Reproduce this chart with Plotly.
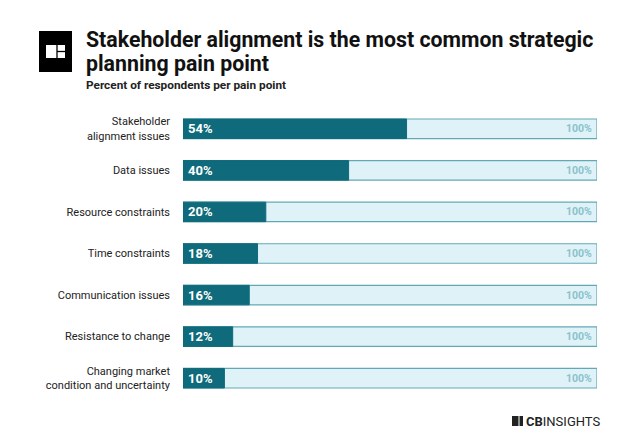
import plotly.graph_objects as go

categories = ["Stakeholder<br>alignment issues", "Data issues", "Resource constraints",
              "Time constraints", "Communication issues", "Resistance to change",
              "Changing market<br>condition and uncertainty"]
values = [54, 40, 20, 18, 16, 12, 10]
full = [100] * len(values)

DARK = "#0f6b7b"
LIGHT = "#dff2f8"
BORDER = "#63a9b5"

fig = go.Figure()
fig.add_trace(go.Bar(
    y=categories, x=full, orientation="h", width=0.47,
    marker=dict(color=LIGHT, line=dict(color=BORDER, width=1.2)),
    hoverinfo="skip", showlegend=False,
))
fig.add_trace(go.Bar(
    y=categories, x=values, orientation="h", width=0.47,
    marker=dict(color=DARK, line=dict(color=DARK, width=1)),
    hoverinfo="skip", showlegend=False,
))

for c, v, f in zip(categories, values, full):
    fig.add_annotation(x=0, y=c, xref="x", yref="y", xanchor="left", yanchor="middle",
                       xshift=3, showarrow=False, text=f"<b>{v}%</b>",
                       font=dict(family="Roboto", size=13, color="white"))
    fig.add_annotation(x=f, y=c, xref="x", yref="y", xanchor="right", yanchor="middle",
                       xshift=-3, showarrow=False, text=f"<b>{f}%</b>",
                       font=dict(family="Roboto", size=10.5, color="#8ac2cb"))

fig.update_layout(
    width=638, height=447, barmode="overlay",
    margin=dict(l=183, r=41, t=108, b=48),
    paper_bgcolor="white", plot_bgcolor="white",
    xaxis=dict(range=[0, 100], visible=False, fixedrange=True),
    yaxis=dict(autorange="reversed", showgrid=False, zeroline=False, showline=False,
               ticks="", ticklabelstandoff=12,
               tickfont=dict(family="Roboto", size=11, color="#222222")),
    font=dict(family="Roboto"),
)

def px_x(x):
    return (x - 183) / 414
def px_y(y):
    return (447 - 48 - y) / 291

# Header logo (black square with white glyph)
fig.add_shape(type="rect", xref="paper", yref="paper",
              x0=px_x(39), x1=px_x(72), y0=px_y(72), y1=px_y(31),
              fillcolor="black", line=dict(width=0), layer="above")
fig.add_shape(type="rect", xref="paper", yref="paper",
              x0=px_x(46), x1=px_x(65), y0=px_y(58), y1=px_y(45),
              fillcolor="white", line=dict(width=0), layer="above")
fig.add_shape(type="line", xref="paper", yref="paper",
              x0=px_x(57), x1=px_x(57), y0=px_y(58), y1=px_y(45),
              line=dict(color="black", width=1.3), layer="above")
fig.add_shape(type="line", xref="paper", yref="paper",
              x0=px_x(57), x1=px_x(65), y0=px_y(51.5), y1=px_y(51.5),
              line=dict(color="black", width=1.3), layer="above")

fig.add_annotation(xref="paper", yref="paper", x=px_x(84), y=px_y(40),
                   xanchor="left", yanchor="middle", showarrow=False,
                   text="<b>Stakeholder alignment is the most common strategic</b>",
                   font=dict(family="Roboto", size=21.3, color="#111111"))
fig.add_annotation(xref="paper", yref="paper", x=px_x(84), y=px_y(63),
                   xanchor="left", yanchor="middle", showarrow=False,
                   text="<b>planning pain point</b>",
                   font=dict(family="Roboto", size=21.3, color="#111111"))
fig.add_annotation(xref="paper", yref="paper", x=px_x(84), y=px_y(85),
                   xanchor="left", yanchor="middle", showarrow=False,
                   text="<b>Percent of respondents per pain point</b>",
                   font=dict(family="Roboto", size=11.8, color="#222222"))

# Footer logo
fig.add_shape(type="rect", xref="paper", yref="paper",
              x0=px_x(512), x1=px_x(523), y0=px_y(426), y1=px_y(416),
              fillcolor="#222222", line=dict(width=0), layer="above")
fig.add_shape(type="line", xref="paper", yref="paper",
              x0=px_x(519), x1=px_x(519), y0=px_y(426), y1=px_y(416),
              line=dict(color="white", width=1), layer="above")
fig.add_annotation(xref="paper", yref="paper", x=px_x(524), y=px_y(421),
                   xanchor="left", yanchor="middle", showarrow=False,
                   text="<b>CB</b>INSIGHTS",
                   font=dict(family="Roboto", size=13, color="#222222"))

fig.write_html("out.html")
